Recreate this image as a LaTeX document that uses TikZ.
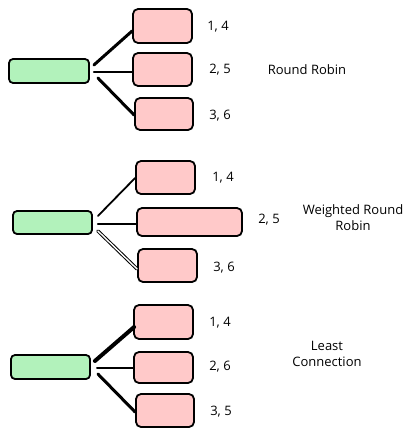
\documentclass[tikz,border=0pt]{standalone}
\usepackage{fontspec}
\setmainfont{Open Sans}
\usepackage{tikz}
\usetikzlibrary{calc}
\definecolor{lbgreen}{HTML}{B2F2BB}
\definecolor{lbpink}{HTML}{FFC9C9}

\begin{document}
\begin{tikzpicture}[x=1pt,y=-1pt,
  client/.style={draw=black,line width=1.8pt,fill=lbgreen,rounded corners=4pt,inner sep=0pt},
  server/.style={draw=black,line width=1.8pt,fill=lbpink,rounded corners=5pt,inner sep=0pt,minimum height=33pt},
  lab/.style={font=\fontsize{13}{16}\selectfont,align=center},
  link/.style={black,line cap=round}]
\useasboundingbox (0,0) rectangle (418,436);

% round robin
\node[client,minimum width=80pt,minimum height=24pt] (g1) at (49,71) {};
\node[server,minimum width=59pt,minimum height=34pt] (a1) at (162.5,26) {};
\node[server,minimum width=59pt] (b1) at (162.5,69.5) {};
\node[server,minimum width=58pt,minimum height=32pt] (c1) at (164,114) {};
\node[lab] (la1) at (218,27) {1, 4};
\node[lab] (lb1) at (220,70) {2, 5};
\node[lab] (lc1) at (220,116) {3, 6};
\node[lab] (t1) at (307,70) {Round Robin};
\draw[link,line width=3pt] ($(g1.east)+(4,-6)$) -- ($(a1.west)+(0,5)$);
\draw[link,line width=2pt] ($(g1.east)+(4,1)$) -- ($(b1.west)+(0,2.5)$);
\draw[link,line width=3pt] ($(g1.east)+(8,7)$) -- ($(c1.west)+(0,1)$);

% weighted round robin
\node[client,minimum width=79pt,minimum height=23pt] (g2) at (52.5,222.5) {};
\node[server,minimum width=59pt] (a2) at (165.5,177.5) {};
\node[server,minimum width=105pt,minimum height=28pt] (b2) at (189.5,222) {};
\node[server,minimum width=59pt] (c2) at (167.5,265.5) {};
\node[lab] (la2) at (223,178) {1, 4};
\node[lab] (lb2) at (269,220) {2, 5};
\node[lab] (lc2) at (224,268) {3, 6};
\node[lab] (t2) at (353,218) {Weighted Round\\Robin};
\draw[link,line width=1.8pt] ($(g2.east)+(5,-6.5)$) -- ($(a2.west)+(0,0.5)$);
\draw[link,line width=2.2pt] ($(g2.east)+(5,1.5)$) -- ($(b2.west)+(0,2)$);
\draw[link,line width=1pt,double=white,double distance=1.4pt] ($(g2.east)+(5,8.5)$) -- ($(c2.west)+(0,3.5)$);

% least connection
\node[client,minimum width=79pt,minimum height=24pt] (g3) at (50.5,367) {};
\node[server,minimum width=59pt,minimum height=34pt] (a3) at (163.5,322) {};
\node[server,minimum width=59pt,minimum height=31pt] (b3) at (163.5,367.5) {};
\node[server,minimum width=58pt] (c3) at (165,410.5) {};
\node[lab] (la3) at (220,323) {1, 4};
\node[lab] (lb3) at (220,367) {2, 6};
\node[lab] (lc3) at (221,412) {3, 5};
\node[lab] (t3) at (327,354) {Least\\Connection};
\draw[link,line width=4pt] ($(g3.east)+(4,-6)$) -- ($(a3.west)+(1,5)$);
\draw[link,line width=1.6pt] ($(g3.east)+(6,1)$) -- ($(b3.west)+(0,0.5)$);
\draw[link,line width=3pt] ($(g3.east)+(7,7)$) -- ($(c3.west)+(0,1.5)$);
\end{tikzpicture}
\end{document}
